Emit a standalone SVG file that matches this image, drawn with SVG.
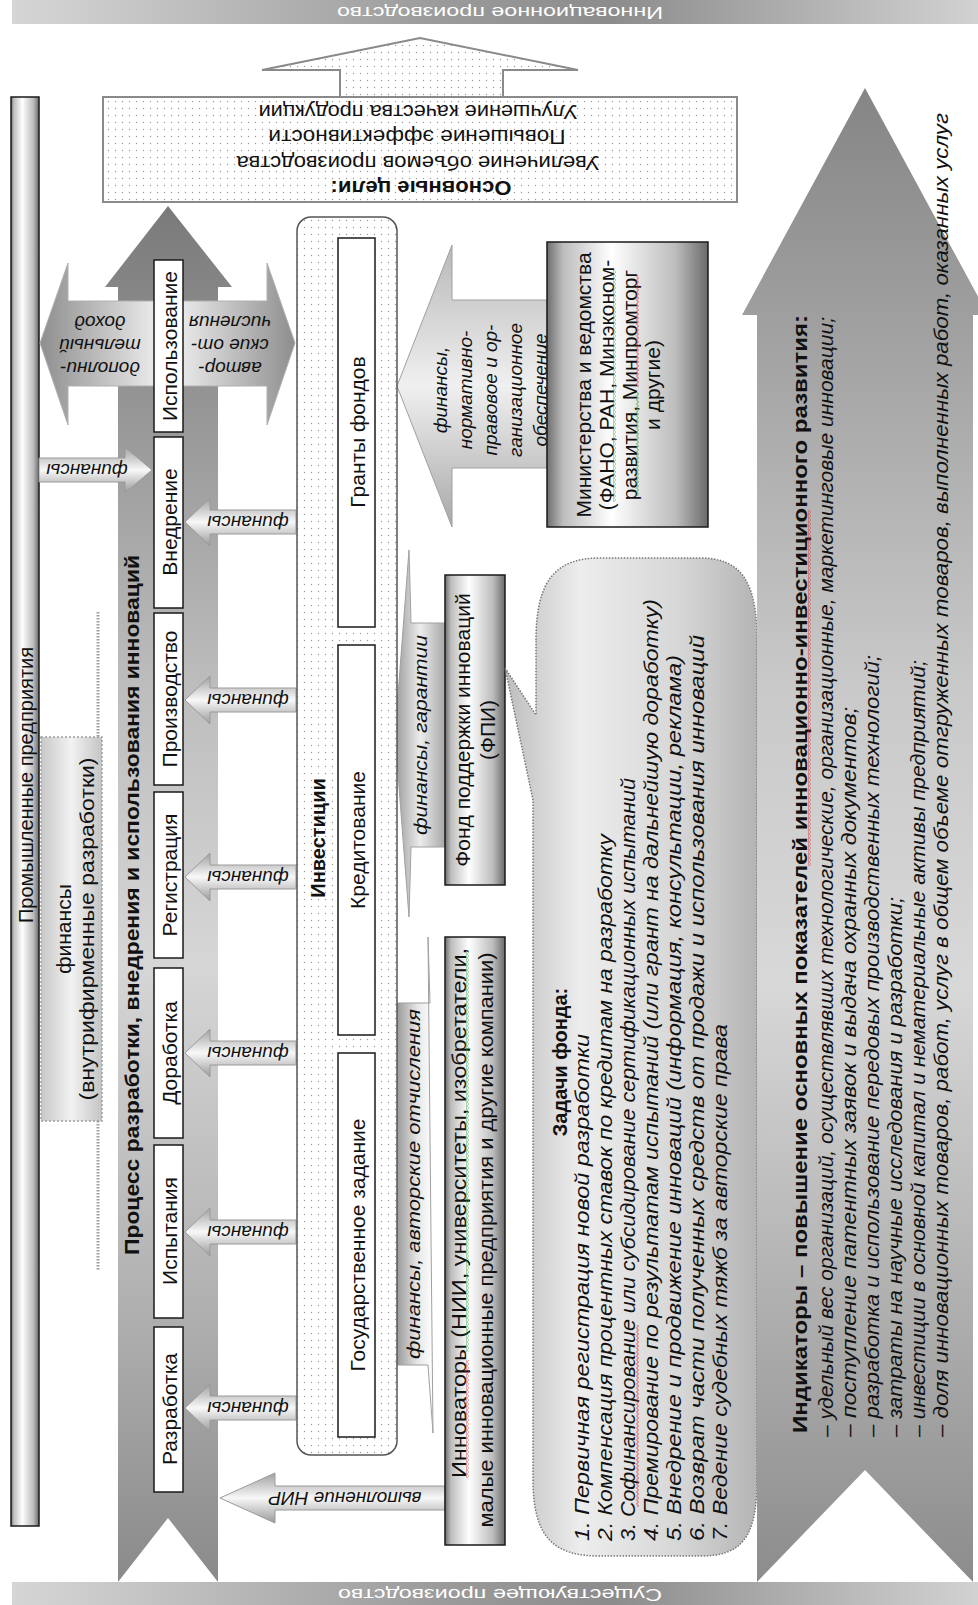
<svg xmlns="http://www.w3.org/2000/svg" width="978" height="1605" viewBox="0 0 978 1605">
<defs>
<style>
.t{font-family:"Liberation Sans",Arial,sans-serif;fill:#111;text-anchor:middle;dominant-baseline:central;}
.st{text-anchor:start;}
.it{font-style:italic;}
.b{font-weight:bold;}
.w{fill:#fff;}
.box{fill:#fff;stroke:#1a1a1a;stroke-width:1.5;}
.cyl{fill:url(#gCyl);stroke:#1a1a1a;stroke-width:1.5;}
.sarr{fill:url(#gArrV);stroke:#9a9a9a;stroke-width:1;}
.wr{fill:url(#wavR);}
.wg{fill:url(#wavG);}
</style>
<pattern id="dots" width="7" height="7" patternUnits="userSpaceOnUse"><rect width="7" height="7" fill="#fff"/><circle cx="3.5" cy="3.5" r="0.7" fill="#9a9a9a"/></pattern>
<pattern id="wavR" width="3" height="4" patternUnits="userSpaceOnUse"><polyline points="0.5,0 2.5,2 0.5,4" fill="none" stroke="#e02020" stroke-width="0.8"/></pattern>
<pattern id="wavG" width="3" height="4" patternUnits="userSpaceOnUse"><polyline points="0.5,0 2.5,2 0.5,4" fill="none" stroke="#2a9a2a" stroke-width="0.8"/></pattern>
<linearGradient id="gBand" x1="0" y1="0" x2="1" y2="0"><stop offset="0" stop-color="#d6d6d6"/><stop offset="0.45" stop-color="#9a9a9a"/><stop offset="0.62" stop-color="#8c8c8c"/><stop offset="1" stop-color="#d2d2d2"/></linearGradient>
<linearGradient id="gCyl" x1="0" y1="0" x2="1" y2="0"><stop offset="0" stop-color="#6e6e6e"/><stop offset="0.1" stop-color="#bdbdbd"/><stop offset="0.4" stop-color="#ffffff"/><stop offset="0.8" stop-color="#bcbcbc"/><stop offset="1" stop-color="#6a6a6a"/></linearGradient>
<linearGradient id="gProc" x1="0" y1="0" x2="0" y2="1"><stop offset="0" stop-color="#7a7a7a"/><stop offset="0.35" stop-color="#bdbdbd"/><stop offset="0.55" stop-color="#d6d6d6"/><stop offset="0.8" stop-color="#b0b0b0"/><stop offset="1" stop-color="#8a8a8a"/></linearGradient>
<linearGradient id="gInd" x1="0" y1="0" x2="0" y2="1"><stop offset="0" stop-color="#858585"/><stop offset="0.4" stop-color="#c9c9c9"/><stop offset="0.6" stop-color="#d8d8d8"/><stop offset="1" stop-color="#8c8c8c"/></linearGradient>
<linearGradient id="gArrV" x1="0" y1="0" x2="0" y2="1"><stop offset="0" stop-color="#a0a0a0"/><stop offset="0.5" stop-color="#f8f8f8"/><stop offset="1" stop-color="#9a9a9a"/></linearGradient>
<linearGradient id="gArrH" x1="0" y1="0" x2="1" y2="0"><stop offset="0" stop-color="#8e8e8e"/><stop offset="0.5" stop-color="#f4f4f4"/><stop offset="1" stop-color="#8e8e8e"/></linearGradient>
<linearGradient id="gBig" x1="0" y1="0" x2="0" y2="1"><stop offset="0" stop-color="#b8b8b8"/><stop offset="0.5" stop-color="#f0f0f0"/><stop offset="1" stop-color="#a8a8a8"/></linearGradient>
<linearGradient id="gGar" x1="0" y1="0" x2="1" y2="0"><stop offset="0" stop-color="#9a9a9a"/><stop offset="0.5" stop-color="#ececec"/><stop offset="1" stop-color="#a8a8a8"/></linearGradient>
<linearGradient id="gOtc" x1="0" y1="0" x2="1" y2="0"><stop offset="0" stop-color="#8e8e8e"/><stop offset="0.6" stop-color="#e6e6e6"/><stop offset="1" stop-color="#ffffff"/></linearGradient>
<linearGradient id="gCall" x1="0" y1="0" x2="1" y2="0"><stop offset="0" stop-color="#bdbdbd"/><stop offset="0.3" stop-color="#ededed"/><stop offset="0.7" stop-color="#d6d6d6"/><stop offset="1" stop-color="#b4b4b4"/></linearGradient>
<linearGradient id="gFin" x1="0" y1="0" x2="1" y2="0"><stop offset="0" stop-color="#c8c8c8"/><stop offset="0.5" stop-color="#f2f2f2"/><stop offset="1" stop-color="#c4c4c4"/></linearGradient>
</defs>
<rect width="978" height="1605" fill="#fff"/>

<g id="band-top"><rect x="12" y="0" width="966" height="24" fill="url(#gBand)"/>
<text class="t w" font-size="17" transform="translate(500,12) rotate(180)" textLength="326" lengthAdjust="spacingAndGlyphs">Инновационное производство</text></g>
<g id="band-bottom"><rect x="12" y="1582" width="966" height="23" fill="url(#gBand)"/>
<text class="t w" font-size="17" transform="translate(500,1594) rotate(180)" textLength="324" lengthAdjust="spacingAndGlyphs">Существующее производство</text></g>

<g id="industry"><rect x="11" y="97" width="28" height="1429" class="cyl"/>
<text class="t" font-size="20" transform="translate(26,785) rotate(-90)">Промышленные предприятия</text></g>

<g id="internal-finance">
<line x1="98" y1="612" x2="98" y2="737" stroke="#a0a0a0" stroke-width="3" stroke-dasharray="1.5 1.5"/>
<line x1="98" y1="1121" x2="98" y2="1270" stroke="#a0a0a0" stroke-width="3" stroke-dasharray="1.5 1.5"/>
<rect x="41" y="737" width="61" height="384" fill="url(#gFin)" stroke="#a0a0a0" stroke-width="1.5" stroke-dasharray="2 2"/>
<text class="t" font-size="21" transform="translate(63,929) rotate(-90)">финансы</text>
<text class="t" font-size="21" transform="translate(86,929) rotate(-90)" textLength="343" lengthAdjust="spacingAndGlyphs">(внутрифирменные разработки)</text></g>

<g id="process"><polygon points="118,287 105,287 168,206 232,287 218,287 218,1582 168,1518 118,1582" fill="url(#gProc)"/>
<text class="t b" font-size="21" transform="translate(131,905) rotate(-90)" textLength="700" lengthAdjust="spacingAndGlyphs">Процесс разработки, внедрения и использования инноваций</text></g>

<g id="connectors">
<polygon points="40,343 68,263 68,301 267,301 267,263 295,343 267,425 267,386 68,386 68,425" fill="url(#gArrH)" stroke="#b0b0b0" stroke-width="1"/>
<polygon points="39,458 125,458 125,447 152,470 125,493 125,482 39,482" class="sarr"/>
<polygon points="296,510 210,510 210,498 185,522 210,546 210,534 296,534" class="sarr"/>
<polygon points="296,688 210,688 210,676 185,700 210,724 210,712 296,712" class="sarr"/>
<polygon points="296,865 210,865 210,853 185,877 210,901 210,889 296,889" class="sarr"/>
<polygon points="296,1041 210,1041 210,1029 185,1053 210,1077 210,1065 296,1065" class="sarr"/>
<polygon points="296,1220 210,1220 210,1208 185,1232 210,1256 210,1244 296,1244" class="sarr"/>
<polygon points="296,1396 210,1396 210,1384 185,1408 210,1432 210,1420 296,1420" class="sarr"/>
<polygon points="445,1486 275,1486 275,1473 220,1498 275,1523 275,1510 445,1510" class="sarr"/>
<polygon points="397,386 452,245 452,300 547,300 547,468 452,468 452,527" fill="url(#gBig)" stroke="#a0a0a0" stroke-width="1"/>
<polygon points="445,623 411,623 409,550 395,735 409,917 411,847 445,847" fill="url(#gGar)" stroke="#a0a0a0" stroke-width="1"/>
<polygon points="397,1003 430,1003 428,937 433,1433 428,1365 397,1365 394,1184" fill="url(#gOtc)" stroke="#a0a0a0" stroke-width="1"/>
<polygon points="340,97 340,70 262,70 420,38 578,70 503,70 503,97" fill="url(#dots)" stroke="#8a8a8a" stroke-width="2"/>
<g class="t it" font-size="19">
<text transform="translate(100,368) rotate(180)">дополни-</text>
<text transform="translate(100,345) rotate(180)">тельный</text>
<text transform="translate(100,322) rotate(180)">доход</text>
<text transform="translate(230,368) rotate(180)">автор-</text>
<text transform="translate(230,345) rotate(180)">ские от-</text>
<text transform="translate(230,322) rotate(180)">числения</text>
<text transform="translate(87,470) rotate(180)">финансы</text>
<text transform="translate(248,522) rotate(180)">финансы</text>
<text transform="translate(248,700) rotate(180)">финансы</text>
<text transform="translate(248,877) rotate(180)">финансы</text>
<text transform="translate(248,1053) rotate(180)">финансы</text>
<text transform="translate(248,1232) rotate(180)">финансы</text>
<text transform="translate(248,1408) rotate(180)">финансы</text>
<text transform="translate(345,1498) rotate(180)">выполнение НИР</text>
<text transform="translate(440,390) rotate(-90)">финансы,</text>
<text transform="translate(465,390) rotate(-90)">нормативно-</text>
<text transform="translate(490,390) rotate(-90)">правовое и ор-</text>
<text transform="translate(515,390) rotate(-90)">ганизационное</text>
<text transform="translate(540,390) rotate(-90)">обеспечение</text>
<text transform="translate(420,735) rotate(-90)" textLength="200" lengthAdjust="spacingAndGlyphs">финансы,  гарантии</text>
<text transform="translate(413,1184) rotate(-90)" textLength="350" lengthAdjust="spacingAndGlyphs">финансы,  авторские  отчисления</text>
</g>
</g>

<g id="stages">
<rect x="154" y="260" width="29" height="172" class="box"/>
<rect x="154" y="437" width="29" height="171" class="box"/>
<rect x="154" y="613" width="29" height="172" class="box"/>
<rect x="154" y="792" width="29" height="166" class="box"/>
<rect x="154" y="968" width="29" height="170" class="box"/>
<rect x="154" y="1145" width="29" height="173" class="box"/>
<rect x="154" y="1327" width="29" height="165" class="box"/>
<g class="t" font-size="21">
<text transform="translate(169,346) rotate(-90)">Использование</text>
<text transform="translate(169,522) rotate(-90)">Внедрение</text>
<text transform="translate(169,699) rotate(-90)">Производство</text>
<text transform="translate(169,875) rotate(-90)">Регистрация</text>
<text transform="translate(169,1053) rotate(-90)">Доработка</text>
<text transform="translate(169,1231) rotate(-90)">Испытания</text>
<text transform="translate(169,1409) rotate(-90)">Разработка</text>
</g></g>

<g id="investments">
<rect x="297" y="217" width="100" height="1238" rx="14" fill="url(#dots)" stroke="#555" stroke-width="1.5"/>
<rect x="338" y="238" width="37" height="389" class="box"/>
<rect x="338" y="645" width="37" height="390" class="box"/>
<rect x="338" y="1053" width="37" height="384" class="box"/>
<text class="t b" font-size="20" transform="translate(318,838) rotate(-90)">Инвестиции</text>
<g class="t" font-size="21">
<text transform="translate(357,432) rotate(-90)">Гранты фондов</text>
<text transform="translate(357,840) rotate(-90)">Кредитование</text>
<text transform="translate(357,1245) rotate(-90)">Государственное задание</text>
</g></g>

<g id="ministries"><rect x="547" y="242" width="161" height="285" class="cyl"/>
<g class="t" font-size="21">
<text transform="translate(583,385) rotate(-90)">Министерства и ведомства</text>
<text transform="translate(606,385) rotate(-90)">(ФАНО, РАН, Минэконом-</text>
<text transform="translate(629,385) rotate(-90)">развития, Минпромторг</text>
<text transform="translate(652,385) rotate(-90)">и другие)</text>
</g>
<rect x="613" y="270" width="3" height="232" class="wg"/>
<rect x="636" y="392" width="3" height="104" class="wg"/>
<rect x="636" y="275" width="3" height="112" class="wr"/>
</g>

<g id="fpi"><rect x="445" y="575" width="60" height="310" class="cyl"/>
<g class="t" font-size="21">
<text transform="translate(462,730) rotate(-90)">Фонд поддержки инноваций</text>
<text transform="translate(487,730) rotate(-90)">(ФПИ)</text>
</g></g>

<g id="innovators"><rect x="445" y="937" width="60" height="608" class="cyl"/>
<g class="t" font-size="20">
<text transform="translate(459,1213) rotate(-90)" textLength="530" lengthAdjust="spacingAndGlyphs">Инноваторы (НИИ, университеты, изобретатели,</text>
<text transform="translate(486,1240) rotate(-90)" textLength="575" lengthAdjust="spacingAndGlyphs">малые инновационные предприятия и другие компании)</text>
</g>
<rect x="466" y="1360" width="3" height="118" class="wr"/>
<rect x="466" y="952" width="3" height="400" class="wg"/>
</g>

<g id="fund-tasks">
<path d="M536,640 C536,580 556,558 600,558 L700,558 C740,558 757,580 757,640 L757,1480 C757,1540 740,1556 700,1556 L600,1556 C556,1556 533,1540 533,1480 L533,800 L505,668 L536,715 Z" fill="url(#gCall)" stroke="#777" stroke-width="1.5" stroke-dasharray="1.5 1.5"/>
<text class="t b" font-size="20" transform="translate(560,1062) rotate(-90)">Задачи фонда:</text>
<g class="t st it" font-size="20">
<text transform="translate(582,1541) rotate(-90)" textLength="507" lengthAdjust="spacingAndGlyphs">1. Первичная регистрация  новой разработки</text>
<text transform="translate(605,1541) rotate(-90)" textLength="707" lengthAdjust="spacingAndGlyphs">2. Компенсация  процентных  ставок по кредитам  на разработку</text>
<text transform="translate(628,1541) rotate(-90)" textLength="763" lengthAdjust="spacingAndGlyphs">3. Софинансирование  или субсидирование  сертификационных  испытаний</text>
<text transform="translate(651,1541) rotate(-90)" textLength="942" lengthAdjust="spacingAndGlyphs">4. Премирование по результатам испытаний (или грант на дальнейшую доработку)</text>
<text transform="translate(674,1541) rotate(-90)" textLength="886" lengthAdjust="spacingAndGlyphs">5. Внедрение  и продвижение  инноваций  (информация,  консультации,  реклама)</text>
<text transform="translate(697,1541) rotate(-90)" textLength="906" lengthAdjust="spacingAndGlyphs">6. Возврат части полученных средств от продажи  и использования  инноваций</text>
<text transform="translate(720,1541) rotate(-90)" textLength="517" lengthAdjust="spacingAndGlyphs">7. Ведение  судебных  тяжб за авторские права</text>
</g>
<rect x="636" y="1325" width="3" height="182" class="wr"/>
</g>

<g id="indicators">
<polygon points="757,315 742,315 865,88 988,315 973,315 973,1582 865,1470 757,1582" fill="url(#gInd)"/>
<text class="t st b" font-size="20" transform="translate(800,1433) rotate(-90)" textLength="1118" lengthAdjust="spacingAndGlyphs">Индикаторы – повышение основных показателей инновационно-инвестиционного  развития:</text>
<rect x="808" y="510" width="3" height="356" class="wr"/>
<g class="t st it" font-size="20">
<text transform="translate(826,1437) rotate(-90)" textLength="1120" lengthAdjust="spacingAndGlyphs">– удельный вес организаций,  осуществлявших технологические,  организационные,  маркетинговые  инновации;</text>
<text transform="translate(849,1437) rotate(-90)" textLength="730" lengthAdjust="spacingAndGlyphs">– поступление  патентных  заявок и выдача охранных документов;</text>
<text transform="translate(872,1437) rotate(-90)" textLength="782" lengthAdjust="spacingAndGlyphs">– разработка  и использование передовых производственных  технологий;</text>
<text transform="translate(895,1437) rotate(-90)" textLength="540" lengthAdjust="spacingAndGlyphs">– затраты на научные исследования  и разработки;</text>
<text transform="translate(918,1437) rotate(-90)" textLength="777" lengthAdjust="spacingAndGlyphs">– инвестиции  в основной  капитал и нематериальные  активы предприятий;</text>
<text transform="translate(941,1437) rotate(-90)" textLength="1324" lengthAdjust="spacingAndGlyphs">– доля инновационных товаров, работ, услуг в общем объеме отгруженных товаров, выполненных работ, оказанных услуг</text>
</g></g>

<g id="goals"><rect x="103" y="97" width="634" height="105" fill="url(#dots)" stroke="#8a8a8a" stroke-width="2"/>
<g class="t" font-size="20">
<text class="b" transform="translate(421,188) rotate(180)" textLength="181" lengthAdjust="spacingAndGlyphs">Основные цели:</text>
<text transform="translate(418,163) rotate(180)" textLength="363" lengthAdjust="spacingAndGlyphs">Увеличение объемов производства</text>
<text transform="translate(417,137) rotate(180)" textLength="297" lengthAdjust="spacingAndGlyphs">Повышение  эффективности</text>
<text transform="translate(418,112) rotate(180)" textLength="319" lengthAdjust="spacingAndGlyphs">Улучшение качества продукции</text>
</g></g>
</svg>
